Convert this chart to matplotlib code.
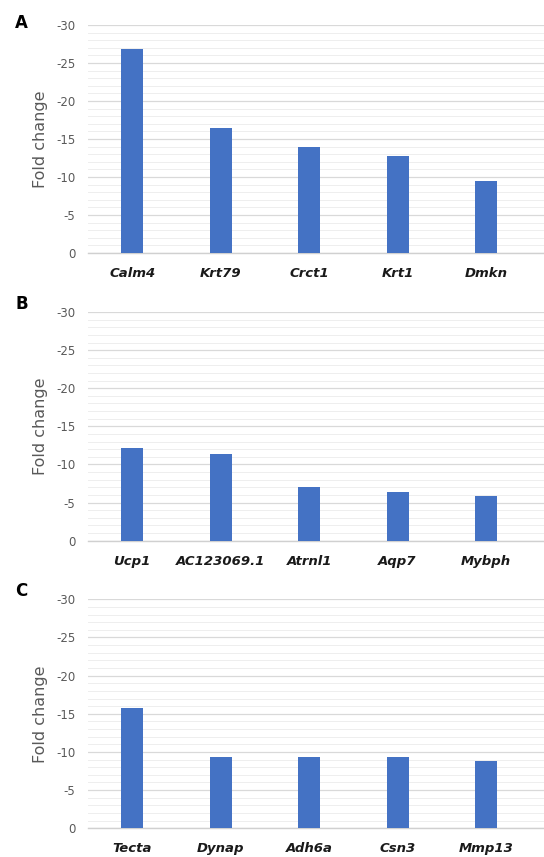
import matplotlib
matplotlib.use("Agg")
import matplotlib.pyplot as plt
from matplotlib.ticker import MultipleLocator, FuncFormatter

# Panel A
genes_a = ["Calm4", "Krt79", "Crct1", "Krt1", "Dmkn"]
fold_a = [-26.9, -16.4, -14.0, -12.7, -9.5]
# Panel B
genes_b = ["Ucp1", "AC123069.1", "Atrnl1", "Aqp7", "Mybph"]
fold_b = [-12.1, -11.4, -7.1, -6.4, -5.9]
# Panel C
genes_c = ["Tecta", "Dynap", "Adh6a", "Csn3", "Mmp13"]
fold_c = [-15.8, -9.3, -9.3, -9.3, -8.8]

panel_labels = ["A", "B", "C"]

bar_color = "#4472C4"
text_gray = "#595959"

fig = plt.figure(figsize=(5.44, 8.57), dpi=100)

# axes boxes in figure fractions: (bottom, top)
boxes = [(0.7048, 0.9708), (0.3691, 0.6359), (0.0335, 0.3007)]
label_y = [0.984, 0.656, 0.321]

for (genes, vals), (b, t), lab, ly in zip(
        [(genes_a, fold_a), (genes_b, fold_b), (genes_c, fold_c)],
        boxes, panel_labels, label_y):
    ax = fig.add_axes([0.1618, b, 1 - 0.1618, t - b])
    x = range(len(genes))
    ax.bar(x, vals, width=0.25, color=bar_color, zorder=3)
    ax.set_xlim(-0.5, 4.655)
    ax.set_ylim(0, -30)

    ax.yaxis.set_major_locator(MultipleLocator(5))
    ax.yaxis.set_minor_locator(MultipleLocator(1))
    ax.yaxis.set_major_formatter(FuncFormatter(lambda v, p: "%d" % v))
    ax.grid(which="major", axis="y", color="#d9d9d9", lw=0.9, zorder=0)
    ax.grid(which="minor", axis="y", color="#eeeeee", lw=0.7, zorder=0)
    ax.tick_params(axis="y", which="both", length=0, labelsize=8.5,
                   labelcolor=text_gray, pad=9)
    ax.tick_params(axis="x", length=0, pad=10)

    ax.set_xticks(list(x))
    ax.set_xticklabels(genes, fontsize=9.5, fontweight="bold",
                       fontstyle="italic", color="#1a1a1a")
    for s in ["top", "right", "left"]:
        ax.spines[s].set_visible(False)
    ax.spines["bottom"].set_color("#d0d0d0")
    ax.spines["bottom"].set_linewidth(1.0)

    ax.set_ylabel("Fold change", fontsize=11.5, color=text_gray, labelpad=6)
    fig.text(0.028, ly, lab, fontsize=12, fontweight="bold", va="top")

fig.savefig("out.png", dpi=100)
